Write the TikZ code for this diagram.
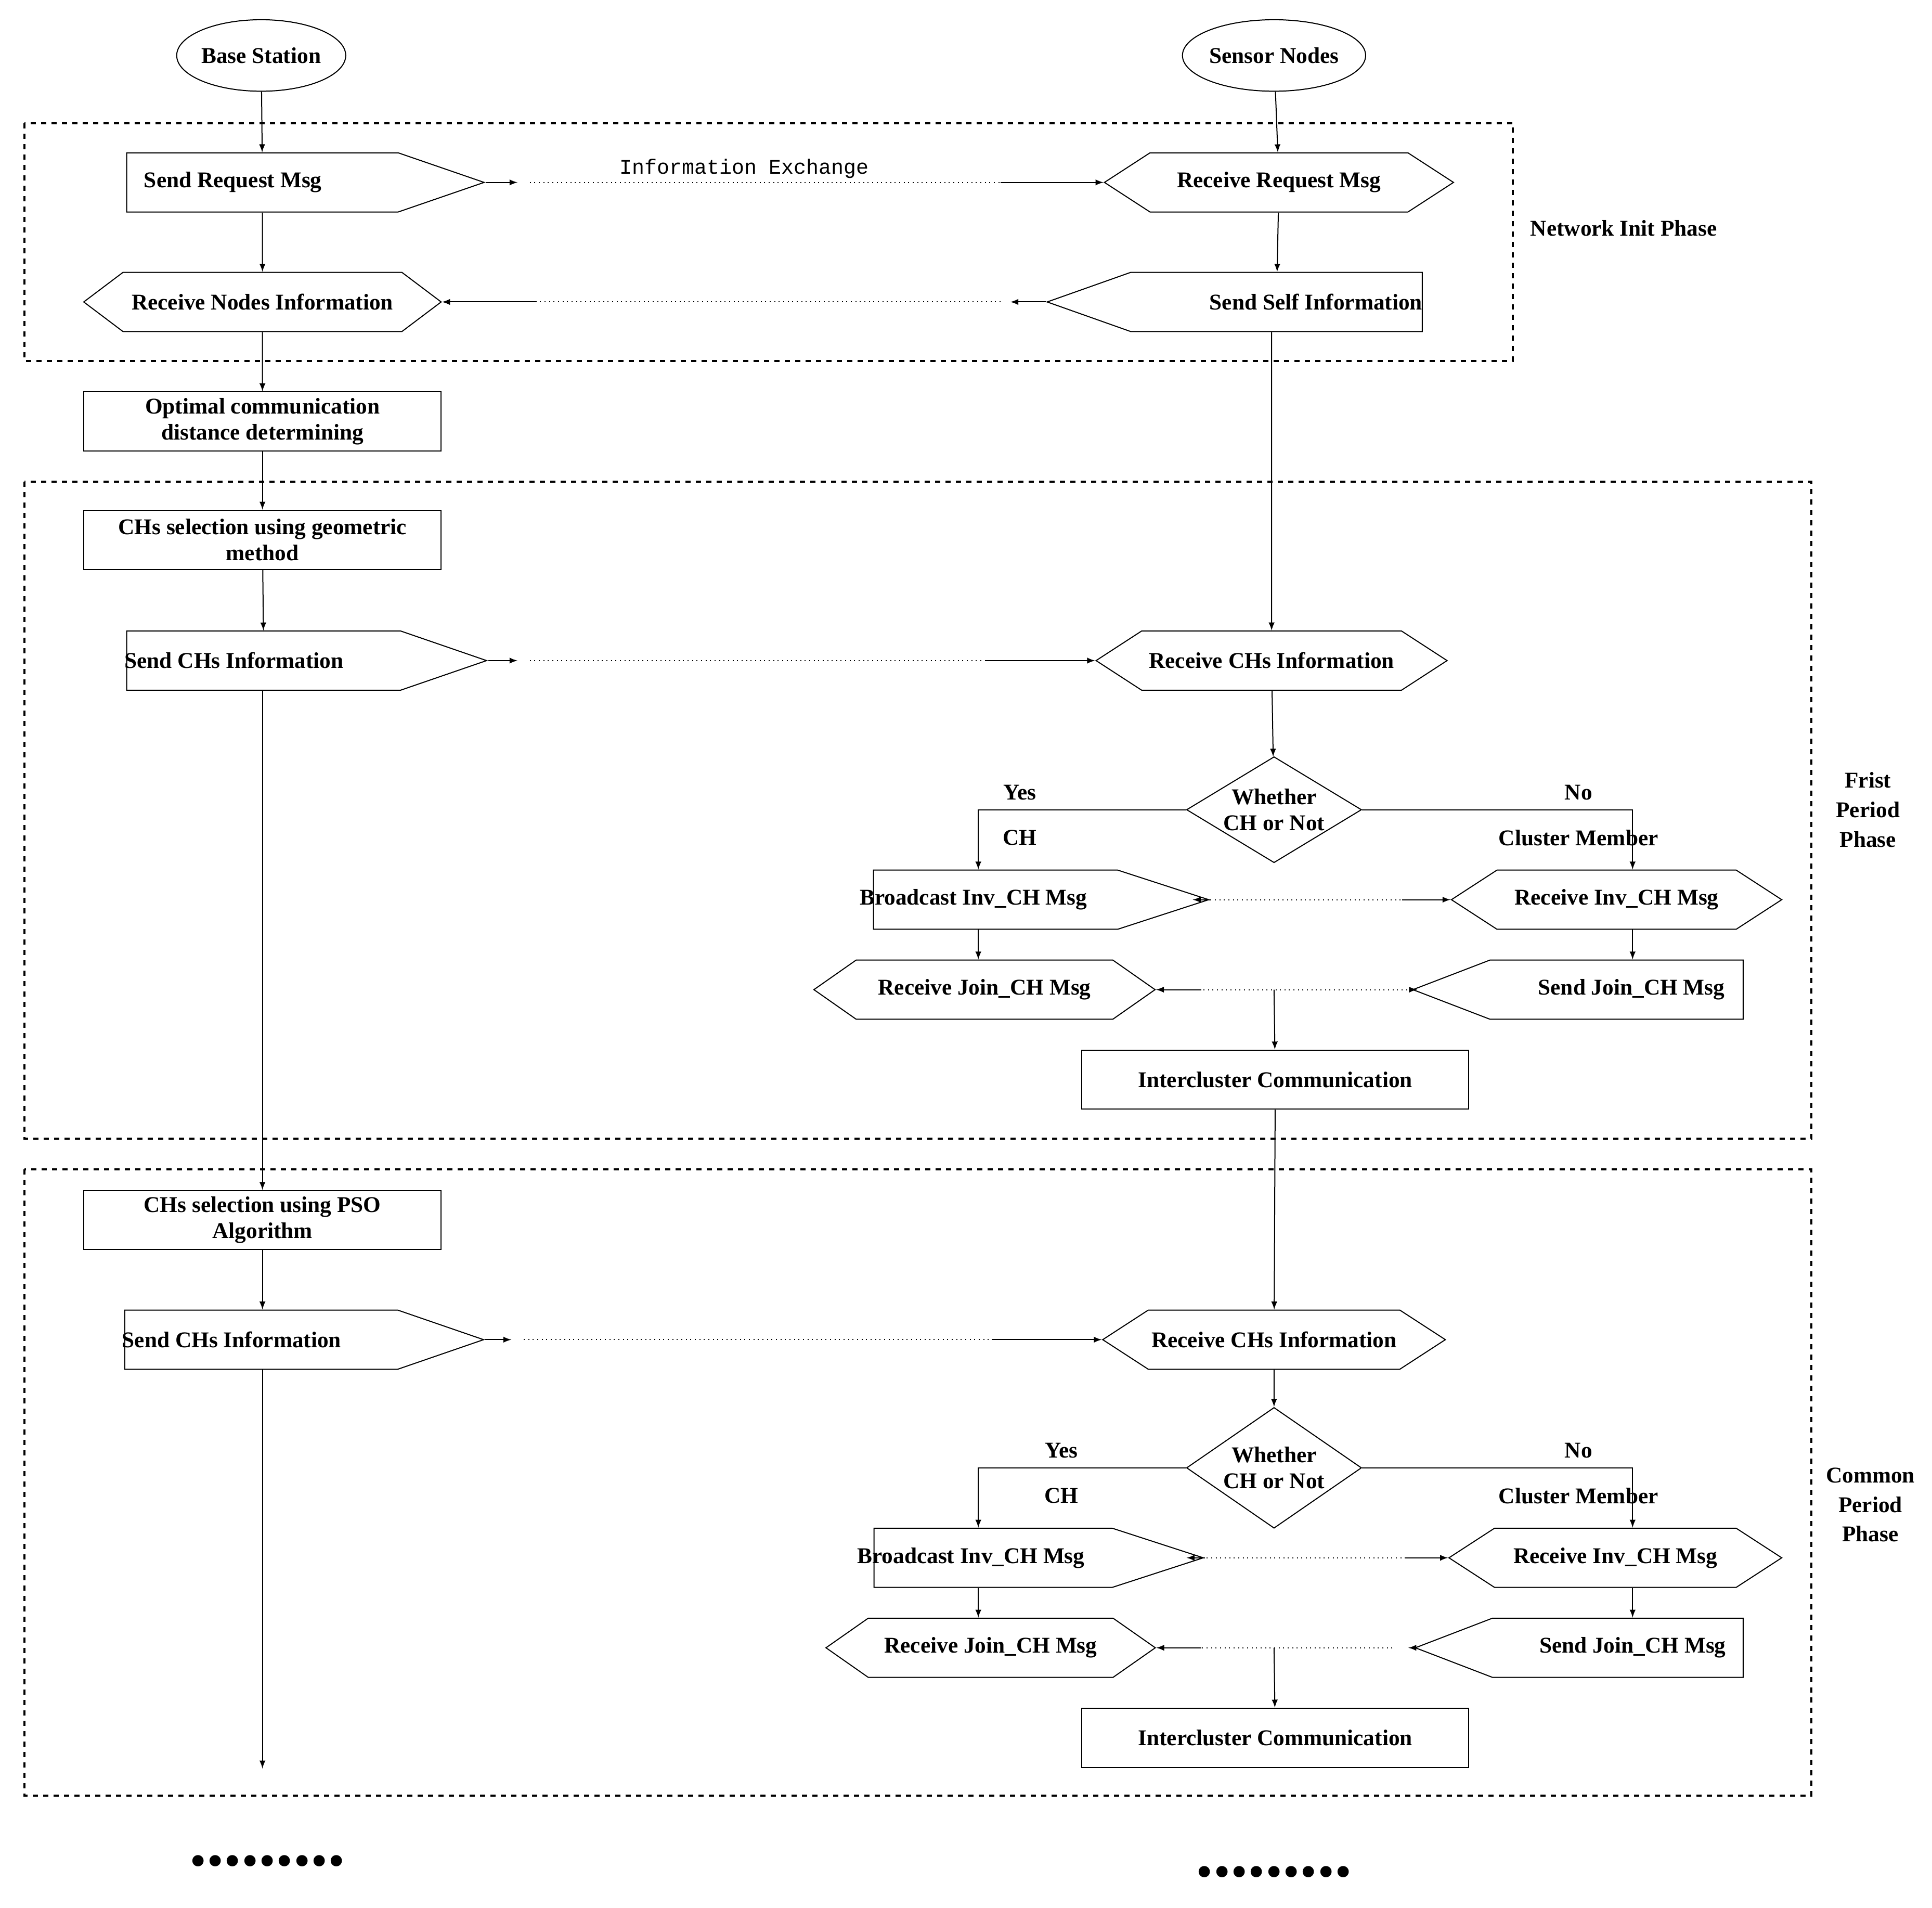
\documentclass[tikz,border=0pt]{standalone}
\usepackage{fontspec}
\setmainfont{Liberation Serif}
\newfontfamily\monofont{Liberation Mono}
\usetikzlibrary{arrows}
\usetikzlibrary{shapes.symbols}
\usetikzlibrary{shapes.geometric}

\tikzset{
  stage/.style={draw, inner sep=0, minimum height=1.2cm, font=\fontsize{13}{15}\selectfont\bfseries, align=center},
  box/.style={stage, rectangle, minimum width=7.25cm},
  send/.style={stage, signal, signal to=east, signal pointer angle=38},
  sendl/.style={stage, signal, signal to=west, signal pointer angle=39},
  recv/.style={stage, signal, signal to=east and west, signal pointer angle=66},
  phase/.style={draw, dashed, line width=1.2},
  lbl/.style={font=\fontsize{13}{15}\selectfont\bfseries, align=center},
}

\begin{document}
\begin{tikzpicture}[x=0.025cm, y=-0.025cm, >=latex, line width=0.6]
        \useasboundingbox (0,0) rectangle (1568,1548);
        % phase frames %
        \draw[phase] (20,100) rectangle (1228,293);
        \draw[phase] (20,391) rectangle (1470,924);
        \draw[phase] (20,949) rectangle (1470,1457);
        \node[lbl, anchor=west] (p1) at (1237,185) {Network Init Phase};
        \node[lbl] (p2) at (1516,657) {Frist\\[2pt]Period\\[2pt]Phase};
        \node[lbl] (p3) at (1518,1221) {Common\\[2pt]Period\\[2pt]Phase};

        % nodes %
        \node[draw, ellipse, lbl, minimum width=3.25cm, minimum height=1.45cm, inner sep=0] (bs) at (212,45) {Base Station};
        \node[draw, ellipse, lbl, minimum width=3.5cm, minimum height=1.45cm, inner sep=0] (sn) at (1034,45) {Sensor Nodes};

        \node[send, minimum width=7.25cm] (sreq) at (213,148) {\hspace*{-1.2cm}Send Request Msg};
        \node[recv, minimum width=7.08cm] (rreq) at (1038,148) {Receive Request Msg};
        \node[recv, minimum width=7.25cm, signal pointer angle=74] (rni) at (213,245) {Receive Nodes Information};
        \node[sendl, minimum width=7.2cm] (ssi) at (1036,245) {\hspace*{1.6cm}Send Self Information};

        \node[box] (opt) at (213,342) {Optimal communication\\distance determining};
        \node[box] (geo) at (213,438) {CHs selection using geometric\\method};
        \node[send, minimum width=7.3cm] (sch) at (214,536) {\hspace*{-1.2cm}Send CHs Information};
        \node[recv, minimum width=7.12cm] (rch) at (1032,536) {Receive CHs Information};
        \node[draw, diamond, lbl, aspect=1.65, minimum width=3.55cm, minimum height=2.15cm, inner sep=0] (dec) at (1034,657) {Whether\\CH or Not};
        \node[send, minimum width=6.8cm, signal pointer angle=36] (bc) at (808,730) {\hspace*{-0.9cm}Broadcast Inv\_CH Msg};
        \node[recv, minimum width=6.7cm] (rinv) at (1312,730) {Receive Inv\_CH Msg};
        \node[recv, minimum width=6.92cm, signal pointer angle=70] (rjoin) at (799,803) {Receive Join\_CH Msg};
        \node[sendl, minimum width=6.7cm, signal pointer angle=42] (sjoin) at (1312,803) {\hspace*{0.6cm}Send Join\_CH Msg};
        \node[box, minimum width=7.85cm] (inter) at (1035,876) {Intercluster Communication};

        \node[box] (pso) at (213,990) {CHs selection using PSO\\Algorithm};
        \node[send, minimum width=7.28cm] (sch2) at (212,1087) {\hspace*{-1.2cm}Send CHs Information};
        \node[recv, minimum width=6.95cm] (rch2) at (1034,1087) {Receive CHs Information};
        \node[draw, diamond, lbl, aspect=1.65, minimum width=3.55cm, minimum height=2.45cm, inner sep=0] (dec2) at (1034,1191) {Whether\\CH or Not};
        \node[send, minimum width=6.68cm, signal pointer angle=36] (bc2) at (806,1264) {\hspace*{-0.9cm}Broadcast Inv\_CH Msg};
        \node[recv, minimum width=6.75cm] (rinv2) at (1311,1264) {Receive Inv\_CH Msg};
        \node[recv, minimum width=6.68cm, signal pointer angle=70] (rjoin2) at (804,1337) {Receive Join\_CH Msg};
        \node[sendl, minimum width=6.65cm, signal pointer angle=42] (sjoin2) at (1313,1337) {\hspace*{0.6cm}Send Join\_CH Msg};
        \node[box, minimum width=7.85cm] (inter2) at (1035,1410) {Intercluster Communication};

        \node[font=\fontsize{40}{40}\selectfont\bfseries] (dl) at (217,1510) {.........};
        \node[font=\fontsize{40}{40}\selectfont\bfseries] (dr) at (1034,1519) {.........};
        \node[font=\monofont\fontsize{12}{14}\selectfont] (ie) at (604,137) {Information Exchange};

        % helper points %
        \coordinate (a1) at (420,148); \coordinate (a2) at (430,148); \coordinate (a3) at (812,148);
        \coordinate (b1) at (820,245); \coordinate (b2) at (812,245); \coordinate (b3) at (435,245);
        \coordinate (c1) at (420,536); \coordinate (c2) at (430,536); \coordinate (c3) at (800,536);
        \coordinate (d1) at (968,730); \coordinate (d2) at (975,730); \coordinate (d3) at (1138,730);
        \coordinate (e1) at (1150,803); \coordinate (e2) at (1142,803); \coordinate (e3) at (975,803);
        \coordinate (m1) at (1034,803);
        \coordinate (f1) at (415,1087); \coordinate (f2) at (425,1087); \coordinate (f3) at (805,1087);
        \coordinate (g1) at (963,1264); \coordinate (g2) at (972,1264); \coordinate (g3) at (1140,1264);
        \coordinate (h1) at (1143,1337); \coordinate (h2) at (1130,1337); \coordinate (h3) at (975,1337);
        \coordinate (m2) at (1034,1337);
        \coordinate (end) at (213,1435);
        \coordinate (xl) at (794,0); \coordinate (xr) at (1325,0);

        % edges %
        \draw[->] (bs) -- (sreq);
        \draw[->] (sn) -- (rreq);
        \draw[->] (sreq) -- (rni);
        \draw[->] (rreq) -- (ssi);
        \draw[->] (rni) -- (opt);
        \draw[->] (opt) -- (geo);
        \draw[->] (geo) -- (sch);
        \draw[->] (ssi.south -| rch) -- (rch);
        \draw[->] (rch) -- (dec);
        \draw[->] (sch.south -| geo) -- (pso);
        \draw[->] (pso) -- (sch2.north -| pso);
        \draw[->] (sch2.south -| pso) -- (end);

        \draw[->] (sreq.east) -- (a1);  \draw[dotted] (a2) -- (a3);  \draw[->] (a3) -- (rreq.west);
        \draw[->] (ssi.west) -- (b1);   \draw[dotted] (b2) -- (b3);  \draw[->] (b3) -- (rni.east);
        \draw[->] (sch.east) -- (c1);   \draw[dotted] (c2) -- (c3);  \draw[->] (c3) -- (rch.west);
        \draw[->] (bc.east) -- (d1);    \draw[dotted] (d2) -- (d3);  \draw[->] (d3) -- (rinv.west);
        \draw[->] (sjoin.west) -- (e1); \draw[dotted] (e2) -- (e3);  \draw[->] (e3) -- (rjoin.east);
        \draw[->] (sch2.east) -- (f1);  \draw[dotted] (f2) -- (f3);  \draw[->] (f3) -- (rch2.west);
        \draw[->] (bc2.east) -- (g1);   \draw[dotted] (g2) -- (g3);  \draw[->] (g3) -- (rinv2.west);
        \draw[->] (sjoin2.west) -- (h1);\draw[dotted] (h2) -- (h3);  \draw[->] (h3) -- (rjoin2.east);

        \draw[->] (dec.west) -| node[lbl, pos=0.4, above=2pt] {Yes} node[lbl, pos=0.4, below=8pt] {CH} (bc.north -| xl);
        \draw[->] (dec.east) -| node[lbl, pos=0.4, above=2pt] {No} node[lbl, pos=0.4, below=8pt] {Cluster Member} (rinv.north -| xr);
        \draw[->] (bc.south -| xl) -- (rjoin.north -| xl);
        \draw[->] (rinv.south -| xr) -- (sjoin.north -| xr);
        \draw[->] (m1) -- (inter);
        \draw[->] (inter) -- (rch2);
        \draw[->] (rch2) -- (dec2);
        \draw[->] (dec2.west) -| node[lbl, pos=0.3, above=2pt] {Yes} node[lbl, pos=0.3, below=8pt] {CH} (bc2.north -| xl);
        \draw[->] (dec2.east) -| node[lbl, pos=0.4, above=2pt] {No} node[lbl, pos=0.4, below=8pt] {Cluster Member} (rinv2.north -| xr);
        \draw[->] (bc2.south -| xl) -- (rjoin2.north -| xl);
        \draw[->] (rinv2.south -| xr) -- (sjoin2.north -| xr);
        \draw[->] (m2) -- (inter2);
\end{tikzpicture}
\end{document}
